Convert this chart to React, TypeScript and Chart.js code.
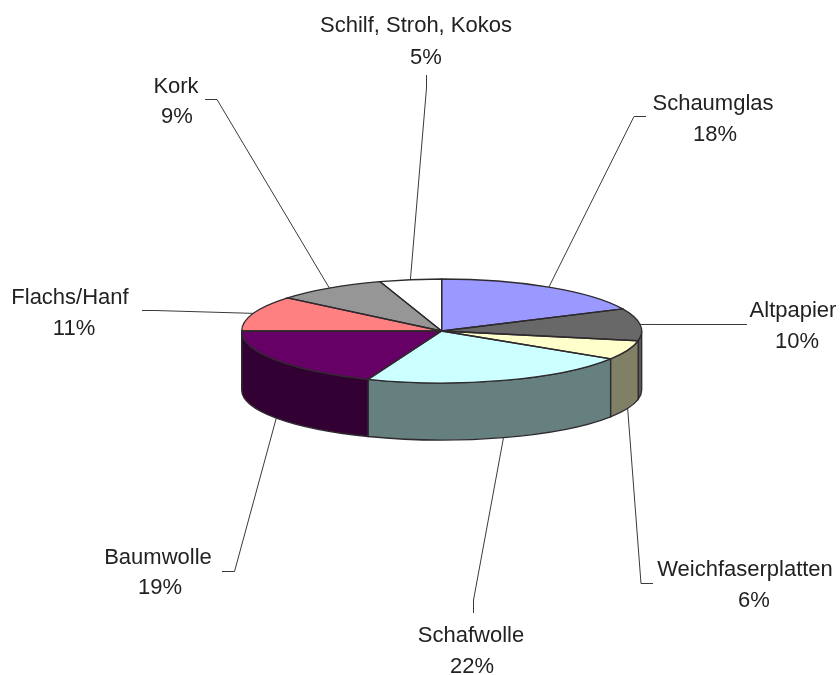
import React, { useEffect, useRef } from "react";
import { Chart, registerables } from "chart.js";

Chart.register(...registerables);

const categories = ["Schaumglas", "Altpapier", "Weichfaserplatten", "Schafwolle", "Baumwolle", "Flachs/Hanf", "Kork", "Schilf, Stroh, Kokos"];
const shares = [18, 10, 6, 22, 19, 11, 9, 5];
const topColors = ["#9999FF", "#686868", "#FFFFCC", "#CCFFFF", "#660066", "#FF8080", "#969696", "#FFFFFF"];
const wallColors = ["#4C4C80", "#585858", "#808066", "#668080", "#330033", "#804040", "#4B4B4B", "#808080"];

// label placement: centre x and baseline of the name and of the percentage
const nameX = [713, 793, 745, 471, 158, 70, 176, 416];
const nameY = [110, 317, 576, 642, 564, 304, 93, 32];
const percentX = [715, 797, 754, 472, 160, 74, 177, 426];
const percentY = [141, 348, 607, 673, 594, 335, 123, 64];
// elbow points of the leader lines, from the slice outward
const elbows: number[][][] = [
  [[634, 116.5], [646, 116.5]],
  [[735, 324.5], [747, 324.5]],
  [[641, 583.5], [653, 583.5]],
  [[473.5, 600], [473.5, 613]],
  [[234.5, 571.5], [222, 571.5]],
  [[155, 310.5], [142, 310.5]],
  [[217, 99.5], [205, 99.5]],
  [[426.5, 88], [426.5, 75]],
];

const SQUASH = 0.26;
const BOTTOM_DROP = 59;
const BOTTOM_SQUASH = 0.25;
const EDGE = "#2e2a2e";
const LEADER = "#3a3a3a";
const TEXT = "#222222";
const FONT = '22px "Liberation Sans", Arial, sans-serif';

const pie3d = {
  id: "pie3d",
  beforeDatasetsDraw(chart: any) {
    const ctx = chart.ctx;
    const arcs = chart.getDatasetMeta(0).data;
    const { x: cx, y: cy, outerRadius: r } = arcs[0];
    ctx.save();
    ctx.lineWidth = 1.3;
    ctx.strokeStyle = EDGE;
    arcs.forEach((a: any, i: number) => {
      const s = Math.max(a.startAngle, 0);
      const e = Math.min(a.endAngle, Math.PI);
      if (e <= s) return;
      ctx.beginPath();
      ctx.ellipse(cx, cy, r, r * SQUASH, 0, s, e);
      ctx.ellipse(cx, cy + BOTTOM_DROP, r, r * BOTTOM_SQUASH, 0, e, s, true);
      ctx.closePath();
      ctx.fillStyle = wallColors[i];
      ctx.fill();
      ctx.stroke();
    });
    ctx.restore();
    ctx.save();
    ctx.translate(cx, cy);
    ctx.scale(1, SQUASH);
    ctx.translate(-cx, -cy);
  },
  afterDatasetsDraw(chart: any) {
    const ctx = chart.ctx;
    ctx.restore();
    const arcs = chart.getDatasetMeta(0).data;
    const { x: cx, y: cy, outerRadius: r } = arcs[0];
    ctx.save();
    ctx.lineWidth = 1.3;
    ctx.strokeStyle = EDGE;
    arcs.forEach((a: any) => {
      ctx.beginPath();
      ctx.moveTo(cx, cy);
      ctx.ellipse(cx, cy, r, r * SQUASH, 0, a.startAngle, a.endAngle);
      ctx.closePath();
      ctx.stroke();
    });
    // leader lines and labels
    ctx.lineWidth = 1;
    ctx.strokeStyle = LEADER;
    ctx.fillStyle = TEXT;
    ctx.font = FONT;
    ctx.textAlign = "center";
    ctx.textBaseline = "alphabetic";
    arcs.forEach((a: any, i: number) => {
      const mid = (a.startAngle + a.endAngle) / 2;
      const lower = Math.sin(mid) > 0;
      const ax = cx + r * Math.cos(mid);
      const ay = lower
        ? cy + BOTTOM_DROP + r * BOTTOM_SQUASH * Math.sin(mid)
        : cy + r * SQUASH * Math.sin(mid);
      ctx.beginPath();
      ctx.moveTo(ax, ay);
      elbows[i].forEach((p) => ctx.lineTo(p[0], p[1]));
      ctx.stroke();
      ctx.fillText(categories[i], nameX[i], nameY[i]);
      ctx.fillText(shares[i] + "%", percentX[i], percentY[i]);
    });
    ctx.restore();
  },
};

export default function App() {
  const ref = useRef<HTMLCanvasElement>(null);
  useEffect(() => {
    const chart = new Chart(ref.current!, {
      type: "pie",
      data: {
        labels: categories,
        datasets: [{ data: shares, backgroundColor: topColors, borderWidth: 0, hoverOffset: 0 }],
      },
      options: {
        responsive: false,
        animation: false,
        layout: { padding: { left: 241.7, right: 198.3, top: 131, bottom: 144 } },
        plugins: { legend: { display: false }, tooltip: { enabled: false } },
      },
      plugins: [pie3d],
    } as any);
    return () => chart.destroy();
  }, []);
  return (
    <div style={{ position: "absolute", left: 0, top: 0, width: 840, height: 675, background: "#fff" }}>
      <canvas ref={ref} width={840} height={675} style={{ display: "block" }} />
    </div>
  );
}
